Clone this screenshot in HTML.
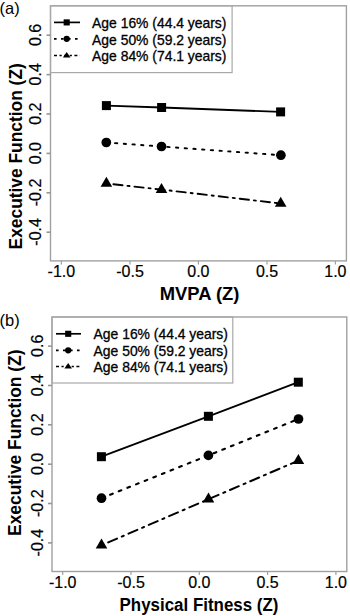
<!DOCTYPE html>
<html><head><meta charset="utf-8"><style>
html,body{margin:0;padding:0;background:#fff;}
body{width:350px;height:616px;overflow:hidden;}
svg{display:block;}
.tk{font-family:"Liberation Sans",sans-serif;font-size:16px;fill:#000;stroke:#000;stroke-width:0.2px;}
.lg{font-family:"Liberation Sans",sans-serif;font-size:13.9px;fill:#000;stroke:#000;stroke-width:0.3px;}
.ti{font-family:"Liberation Sans",sans-serif;font-size:18px;font-weight:bold;fill:#000;}
.pl{font-family:"Liberation Sans",sans-serif;font-size:16.5px;fill:#000;}
</style></head><body>
<svg width="350" height="616" viewBox="0 0 350 616">
<rect width="350" height="616" fill="#fff"/>
<text x="-0.5" y="13.5" class="pl">(a)</text>
<text x="-0.5" y="326" class="pl">(b)</text>
<rect x="50.5" y="5.8" width="295.90" height="255.10" fill="none" stroke="#a0a0a0" stroke-width="1.4"/>
<rect x="50.5" y="5.8" width="181.60" height="66.80" fill="none" stroke="#a8a8a8" stroke-width="1.2"/>
<line x1="61.4" y1="260.9" x2="61.4" y2="264.4" stroke="#a0a0a0" stroke-width="1.2"/>
<text x="61.4" y="276.5" text-anchor="middle" class="tk">-1.0</text>
<line x1="130.0" y1="260.9" x2="130.0" y2="264.4" stroke="#a0a0a0" stroke-width="1.2"/>
<text x="130.0" y="276.5" text-anchor="middle" class="tk">-0.5</text>
<line x1="198.4" y1="260.9" x2="198.4" y2="264.4" stroke="#a0a0a0" stroke-width="1.2"/>
<text x="198.4" y="276.5" text-anchor="middle" class="tk">0.0</text>
<line x1="267.0" y1="260.9" x2="267.0" y2="264.4" stroke="#a0a0a0" stroke-width="1.2"/>
<text x="267.0" y="276.5" text-anchor="middle" class="tk">0.5</text>
<line x1="335.4" y1="260.9" x2="335.4" y2="264.4" stroke="#a0a0a0" stroke-width="1.2"/>
<text x="335.4" y="276.5" text-anchor="middle" class="tk">1.0</text>
<line x1="46.5" y1="35.20" x2="50.5" y2="35.20" stroke="#959595" stroke-width="1.6"/>
<text transform="translate(41.4,34.9) rotate(-90)" x="0" y="0" text-anchor="middle" class="tk">0.6</text>
<line x1="46.5" y1="74.60" x2="50.5" y2="74.60" stroke="#959595" stroke-width="1.6"/>
<text transform="translate(41.4,74.3) rotate(-90)" x="0" y="0" text-anchor="middle" class="tk">0.4</text>
<line x1="46.5" y1="114.00" x2="50.5" y2="114.00" stroke="#959595" stroke-width="1.6"/>
<text transform="translate(41.4,113.7) rotate(-90)" x="0" y="0" text-anchor="middle" class="tk">0.2</text>
<line x1="46.5" y1="153.40" x2="50.5" y2="153.40" stroke="#959595" stroke-width="1.6"/>
<text transform="translate(41.4,153.1) rotate(-90)" x="0" y="0" text-anchor="middle" class="tk">0.0</text>
<line x1="46.5" y1="192.80" x2="50.5" y2="192.80" stroke="#959595" stroke-width="1.6"/>
<text transform="translate(41.4,192.5) rotate(-90)" x="0" y="0" text-anchor="middle" class="tk">-0.2</text>
<line x1="46.5" y1="232.20" x2="50.5" y2="232.20" stroke="#959595" stroke-width="1.6"/>
<text transform="translate(41.4,231.9) rotate(-90)" x="0" y="0" text-anchor="middle" class="tk">-0.4</text>
<text transform="translate(22.0,249.4) rotate(-90)" x="0" y="0" class="ti" textLength="186.2" lengthAdjust="spacingAndGlyphs">Executive Function (Z)</text>
<text x="159.8" y="300.4" class="ti" textLength="79.6" lengthAdjust="spacingAndGlyphs">MVPA (Z)</text>
<line x1="54" y1="22.4" x2="80" y2="22.4" stroke="#000" stroke-width="1.7" />
<rect x="63.64" y="19.34" width="6.12" height="6.12" fill="#000"/>
<text x="92.1" y="28.1" class="lg">Age 16% (44.4 years)</text>
<line x1="54" y1="38.8" x2="80" y2="38.8" stroke="#000" stroke-width="1.7" stroke-dasharray="2.6 4.4"/>
<circle cx="66.7" cy="38.8" r="3.15" fill="#000"/>
<text x="92.1" y="44.8" class="lg">Age 50% (59.2 years)</text>
<line x1="54" y1="55.5" x2="80" y2="55.5" stroke="#000" stroke-width="1.7" stroke-dasharray="3 2.5 2.2 2.5"/>
<path d="M66.7,51.90 L70.50,57.50 L62.90,57.50 Z" fill="#000"/>
<text x="92.1" y="61.4" class="lg">Age 84% (74.1 years)</text>
<path d="M106.4,105.6 L161.6,107.5 L280.6,111.9" fill="none" stroke="#000" stroke-width="1.8"/>
<rect x="101.90" y="101.10" width="9.00" height="9.00" fill="#000"/>
<rect x="157.10" y="103.00" width="9.00" height="9.00" fill="#000"/>
<rect x="276.10" y="107.40" width="9.00" height="9.00" fill="#000"/>
<path d="M106.3,142.5 L161.5,146.5 L280.9,155.2" fill="none" stroke="#000" stroke-width="1.9" stroke-linecap="round" stroke-dasharray="2.3 6.43"/>
<circle cx="106.3" cy="142.5" r="4.85" fill="#000"/>
<circle cx="161.5" cy="146.5" r="4.85" fill="#000"/>
<circle cx="280.9" cy="155.2" r="4.85" fill="#000"/>
<path d="M106.4,183.5 L161.5,189.6 L280.7,203.5" fill="none" stroke="#000" stroke-width="1.9" stroke-linecap="round" stroke-dasharray="2.0 5.0 9.2 5.0"/>
<path d="M106.4,176.80 L112.20,186.80 L100.60,186.80 Z" fill="#000"/>
<path d="M161.5,182.90 L167.30,192.90 L155.70,192.90 Z" fill="#000"/>
<path d="M280.7,196.80 L286.50,206.80 L274.90,206.80 Z" fill="#000"/>
<rect x="52" y="317" width="294.80" height="254.50" fill="none" stroke="#a0a0a0" stroke-width="1.4"/>
<rect x="52" y="317" width="180.80" height="66.00" fill="none" stroke="#a8a8a8" stroke-width="1.2"/>
<line x1="62.7" y1="571.5" x2="62.7" y2="575.0" stroke="#a0a0a0" stroke-width="1.2"/>
<text x="62.7" y="587.9" text-anchor="middle" class="tk">-1.0</text>
<line x1="131.0" y1="571.5" x2="131.0" y2="575.0" stroke="#a0a0a0" stroke-width="1.2"/>
<text x="131.0" y="587.9" text-anchor="middle" class="tk">-0.5</text>
<line x1="199.3" y1="571.5" x2="199.3" y2="575.0" stroke="#a0a0a0" stroke-width="1.2"/>
<text x="199.3" y="587.9" text-anchor="middle" class="tk">0.0</text>
<line x1="267.6" y1="571.5" x2="267.6" y2="575.0" stroke="#a0a0a0" stroke-width="1.2"/>
<text x="267.6" y="587.9" text-anchor="middle" class="tk">0.5</text>
<line x1="335.9" y1="571.5" x2="335.9" y2="575.0" stroke="#a0a0a0" stroke-width="1.2"/>
<text x="335.9" y="587.9" text-anchor="middle" class="tk">1.0</text>
<line x1="48" y1="346.10" x2="52" y2="346.10" stroke="#959595" stroke-width="1.6"/>
<text transform="translate(43.2,345.8) rotate(-90)" x="0" y="0" text-anchor="middle" class="tk">0.6</text>
<line x1="48" y1="385.50" x2="52" y2="385.50" stroke="#959595" stroke-width="1.6"/>
<text transform="translate(43.2,385.2) rotate(-90)" x="0" y="0" text-anchor="middle" class="tk">0.4</text>
<line x1="48" y1="424.80" x2="52" y2="424.80" stroke="#959595" stroke-width="1.6"/>
<text transform="translate(43.2,424.5) rotate(-90)" x="0" y="0" text-anchor="middle" class="tk">0.2</text>
<line x1="48" y1="464.20" x2="52" y2="464.20" stroke="#959595" stroke-width="1.6"/>
<text transform="translate(43.2,463.9) rotate(-90)" x="0" y="0" text-anchor="middle" class="tk">0.0</text>
<line x1="48" y1="503.50" x2="52" y2="503.50" stroke="#959595" stroke-width="1.6"/>
<text transform="translate(43.2,503.2) rotate(-90)" x="0" y="0" text-anchor="middle" class="tk">-0.2</text>
<line x1="48" y1="542.90" x2="52" y2="542.90" stroke="#959595" stroke-width="1.6"/>
<text transform="translate(43.2,542.6) rotate(-90)" x="0" y="0" text-anchor="middle" class="tk">-0.4</text>
<text transform="translate(20.8,535.9) rotate(-90)" x="0" y="0" class="ti" textLength="186.4" lengthAdjust="spacingAndGlyphs">Executive Function (Z)</text>
<text x="119.6" y="610.6" class="ti" textLength="158.8" lengthAdjust="spacingAndGlyphs">Physical Fitness (Z)</text>
<line x1="56" y1="333.8" x2="81" y2="333.8" stroke="#000" stroke-width="1.7" />
<rect x="65.14" y="330.74" width="6.12" height="6.12" fill="#000"/>
<text x="93.6" y="339.2" class="lg">Age 16% (44.4 years)</text>
<line x1="56" y1="350.3" x2="81" y2="350.3" stroke="#000" stroke-width="1.7" stroke-dasharray="2.6 4.4"/>
<circle cx="68.2" cy="350.3" r="3.15" fill="#000"/>
<text x="93.6" y="355.7" class="lg">Age 50% (59.2 years)</text>
<line x1="56" y1="366.5" x2="81" y2="366.5" stroke="#000" stroke-width="1.7" stroke-dasharray="3 2.5 2.2 2.5"/>
<path d="M68.2,362.90 L72.00,368.50 L64.40,368.50 Z" fill="#000"/>
<text x="93.6" y="372.1" class="lg">Age 84% (74.1 years)</text>
<path d="M101.4,456.7 L208.4,416.3 L298.3,382.2" fill="none" stroke="#000" stroke-width="1.8"/>
<rect x="96.90" y="452.20" width="9.00" height="9.00" fill="#000"/>
<rect x="203.90" y="411.80" width="9.00" height="9.00" fill="#000"/>
<rect x="293.80" y="377.70" width="9.00" height="9.00" fill="#000"/>
<path d="M101.5,498.2 L208.4,455.4 L298.5,419" fill="none" stroke="#000" stroke-width="2.1" stroke-linecap="round" stroke-dasharray="2.8 6.5"/>
<circle cx="101.5" cy="498.2" r="4.85" fill="#000"/>
<circle cx="208.4" cy="455.4" r="4.85" fill="#000"/>
<circle cx="298.5" cy="419" r="4.85" fill="#000"/>
<path d="M101.5,545.3 L208.5,499.2 L298.4,460.6" fill="none" stroke="#000" stroke-width="2" stroke-linecap="round" stroke-dasharray="2.1 5.2 9.6 5.2"/>
<path d="M101.5,538.60 L107.30,548.60 L95.70,548.60 Z" fill="#000"/>
<path d="M208.5,492.50 L214.30,502.50 L202.70,502.50 Z" fill="#000"/>
<path d="M298.4,453.90 L304.20,463.90 L292.60,463.90 Z" fill="#000"/>
</svg>
</body></html>
